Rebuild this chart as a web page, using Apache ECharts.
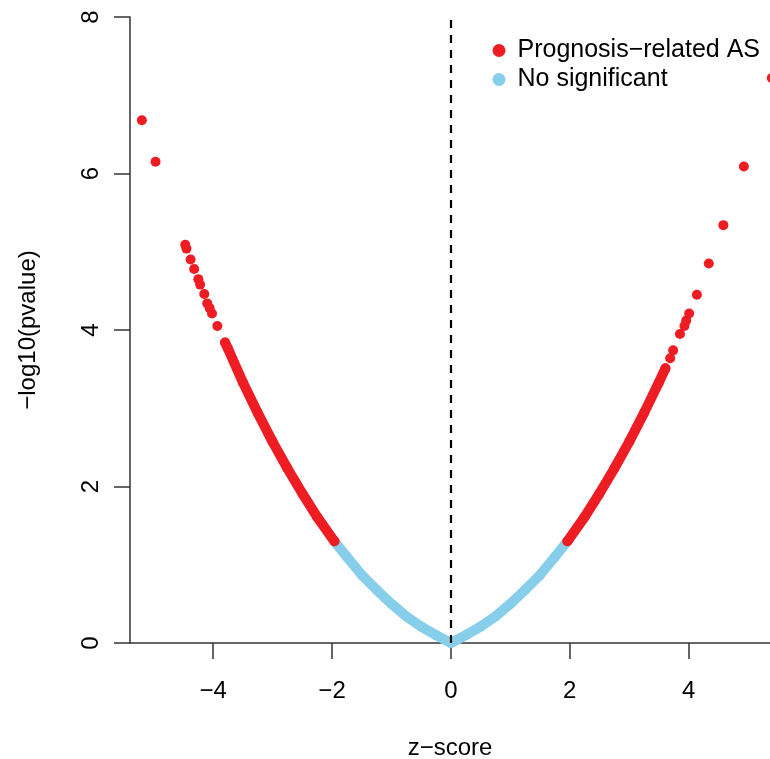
<!DOCTYPE html>
<html>
<head>
<meta charset="utf-8">
<script src="https://cdn.jsdelivr.net/npm/echarts@6/dist/echarts.min.js"></script>
<style>
html,body{margin:0;padding:0;background:#fff;}
#chart{width:770px;height:759px;}
</style>
</head>
<body>
<div id="chart"></div>
<script>
// Series names
const seriesNames = ['Prognosis−related AS', 'No significant'];
// Tick values
const xTicks = [-4, -2, 0, 2, 4];
const yTicks = [0, 2, 4, 6, 8];

// Dense, non-significant part of the curve [z-score, -log10(pvalue)]
const blueBand = [
  [-1.96, 1.30], [-1.75, 1.10], [-1.50, 0.87], [-1.25, 0.68], [-1.00, 0.50],
  [-0.75, 0.34], [-0.50, 0.21], [-0.25, 0.10], [0.00, 0.00], [0.25, 0.10],
  [0.50, 0.21], [0.75, 0.34], [1.00, 0.50], [1.25, 0.68], [1.50, 0.87],
  [1.75, 1.10], [1.96, 1.30]
];
// Dense, significant parts of the curve
const redBandLeft = [
  [-3.80, 3.84], [-3.75, 3.76], [-3.50, 3.33], [-3.25, 2.94], [-3.00, 2.57],
  [-2.75, 2.23], [-2.50, 1.91], [-2.25, 1.61], [-1.96, 1.30]
];
const redBandRight = [
  [1.96, 1.30], [2.25, 1.61], [2.50, 1.91], [2.75, 2.23], [3.00, 2.57],
  [3.25, 2.94], [3.50, 3.33], [3.61, 3.51]
];
// Isolated significant points
const redPointsLeft = [
  [-5.20, 6.68], [-4.97, 6.15], [-4.47, 5.09], [-4.45, 5.04], [-4.38, 4.90],
  [-4.32, 4.78], [-4.25, 4.65], [-4.22, 4.58], [-4.15, 4.46], [-4.10, 4.34],
  [-4.06, 4.28], [-4.02, 4.21], [-3.93, 4.05]
];
const redPointsRight = [
  [3.69, 3.64], [3.74, 3.74], [3.855, 3.95], [3.93, 4.05], [3.96, 4.12],
  [4.01, 4.21], [4.14, 4.45], [4.34, 4.85], [4.585, 5.34], [4.93, 6.09],
  [5.40, 7.22]
];

const RED = '#EE1D23';
const BLUE = '#87CEEB';
const AXIS = '#333333';
const FONT = 'Liberation Sans, Arial, Helvetica, sans-serif';
const minus = v => String(v).replace('-', '−');

const chart = echarts.init(document.getElementById('chart'), null, {renderer: 'canvas'});
chart.setOption({
  animation: false,
  backgroundColor: '#ffffff',
  grid: {left: 130, right: 0, top: 17, bottom: 116, containLabel: false, outerBoundsMode: 'none'},
  legend: {
    data: seriesNames,
    orient: 'vertical',
    left: 487.5,
    top: 33,
    itemWidth: 13,
    itemHeight: 13,
    itemGap: 4,
    icon: 'circle',
    itemStyle: {opacity: 1},
    textStyle: {fontFamily: FONT, fontSize: 25, color: '#000', padding: [0, 0, 0, 7]}
  },
  xAxis: {
    type: 'value',
    min: -5.40,
    max: 5.37,
    name: 'z−score',
    nameLocation: 'middle',
    nameGap: 93,
    nameTextStyle: {fontFamily: FONT, fontSize: 24, color: '#000'},
    axisLine: {show: true, onZero: false, lineStyle: {color: AXIS, width: 1.5}},
    axisTick: {show: true, inside: false, length: 16, customValues: xTicks, lineStyle: {color: AXIS, width: 1.5}},
    axisLabel: {show: true, customValues: xTicks, margin: 36, fontFamily: FONT, fontSize: 24, color: '#000', formatter: minus},
    splitLine: {show: false}
  },
  yAxis: {
    type: 'value',
    min: 0,
    max: 8,
    interval: 2,
    name: '−log10(pvalue)',
    nameLocation: 'middle',
    nameGap: 90,
    nameTextStyle: {fontFamily: FONT, fontSize: 24, color: '#000'},
    axisLine: {show: true, onZero: false, lineStyle: {color: AXIS, width: 1.5}},
    axisTick: {show: true, inside: false, length: 16, customValues: yTicks, lineStyle: {color: AXIS, width: 1.5}},
    axisLabel: {show: true, customValues: yTicks, rotate: 90, margin: 27, fontFamily: FONT, fontSize: 24, color: '#000', formatter: minus},
    splitLine: {show: false}
  },
  series: [
    {
      name: 'blueBandLine', type: 'line', data: blueBand, showSymbol: false, silent: true, z: 1,
      lineStyle: {color: BLUE, width: 10, cap: 'round', join: 'round'}
    },
    {
      name: seriesNames[1], type: 'scatter', data: blueBand, symbol: 'circle', symbolSize: 10, clip: false, z: 1,
      itemStyle: {color: BLUE, opacity: 1}
    },
    {
      name: 'redBandLeftLine', type: 'line', data: redBandLeft, showSymbol: false, silent: true, z: 2,
      lineStyle: {color: RED, width: 10, cap: 'round', join: 'round'}
    },
    {
      name: 'redBandRightLine', type: 'line', data: redBandRight, showSymbol: false, silent: true, z: 2,
      lineStyle: {color: RED, width: 10, cap: 'round', join: 'round'}
    },
    {
      name: seriesNames[0], type: 'scatter',
      data: redPointsLeft.concat(redBandLeft, redBandRight, redPointsRight),
      symbol: 'circle', symbolSize: 10, clip: false, z: 3,
      itemStyle: {color: RED, opacity: 1},
      markLine: {
        silent: true, symbol: ['none', 'none'], z: 10,
        label: {show: false},
        lineStyle: {color: '#000', type: [8, 7], width: 2.2},
        data: [{xAxis: 0}]
      }
    }
  ]
});
</script>
</body>
</html>
